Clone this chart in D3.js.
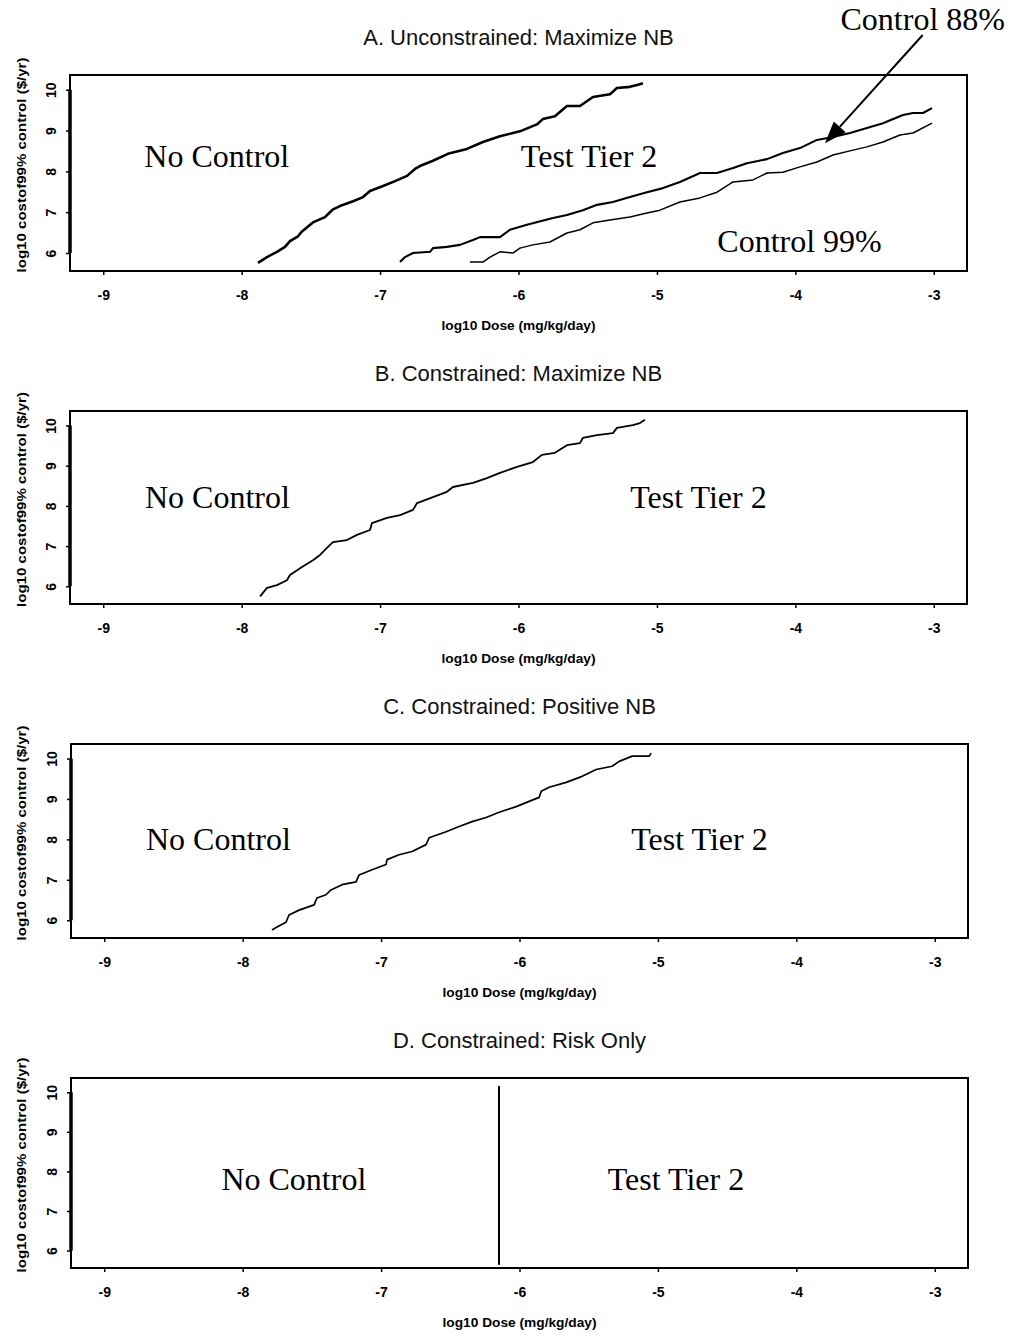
<!DOCTYPE html>
<html>
<head>
<meta charset="utf-8">
<script src="https://cdn.jsdelivr.net/npm/d3@7.9.0/dist/d3.min.js"></script>
<style>
  body { margin: 0; background: #fff; }
  svg { display: block; }
  .tick text { font-family: "Liberation Sans", Arial, sans-serif; font-weight: bold; font-size: 14px; fill: #000; }
  .title { font-family: "Liberation Sans", Arial, sans-serif; font-size: 22px; fill: #111; }
  .axis-label { font-family: "Liberation Sans", Arial, sans-serif; font-size: 13px; font-weight: bold; fill: #000; }
  .region { font-family: "Liberation Serif", "Times New Roman", serif; font-size: 32px; fill: #000; }
</style>
</head>
<body>
<svg width="1015" height="1336"></svg>
<script>
// axis setup
const xDomain = [-9.24, -2.76];
const yDomain = [5.56, 10.36];
const xTicks = [-9, -8, -7, -6, -5, -4, -3];
const yTicks = [6, 7, 8, 9, 10];

const panelTitles = [
  'A. Unconstrained: Maximize NB',
  'B. Constrained: Maximize NB',
  'C. Constrained: Positive NB',
  'D. Constrained: Risk Only'
];

// panel A, boundary No Control / Test Tier 2
const curveA1 = [
  [-7.882, 5.76], [-7.817, 5.90], [-7.745, 6.03], [-7.687, 6.15], [-7.651, 6.29], [-7.593, 6.41],
  [-7.564, 6.53], [-7.485, 6.75], [-7.398, 6.88], [-7.362, 7.00], [-7.340, 7.07], [-7.290, 7.15],
  [-7.195, 7.27], [-7.123, 7.37], [-7.073, 7.52], [-6.979, 7.64], [-6.892, 7.76], [-6.805, 7.89],
  [-6.748, 8.06], [-6.712, 8.13], [-6.618, 8.26], [-6.510, 8.43], [-6.373, 8.55], [-6.257, 8.72],
  [-6.134, 8.86], [-5.990, 8.98], [-5.867, 9.15], [-5.824, 9.28], [-5.737, 9.35], [-5.650, 9.60],
  [-5.556, 9.60], [-5.462, 9.82], [-5.339, 9.89], [-5.289, 10.04], [-5.195, 10.07], [-5.137, 10.12],
  [-5.101, 10.16]
];

// panel A, boundary Test Tier 2 / Control 88%
const curveA2 = [
  [-6.856, 5.78], [-6.820, 5.90], [-6.762, 6.00], [-6.639, 6.03], [-6.618, 6.12], [-6.517, 6.15],
  [-6.423, 6.20], [-6.329, 6.32], [-6.278, 6.39], [-6.134, 6.39], [-6.062, 6.57], [-5.939, 6.69],
  [-5.751, 6.86], [-5.650, 6.93], [-5.535, 7.05], [-5.433, 7.18], [-5.318, 7.25], [-5.195, 7.37],
  [-5.072, 7.49], [-4.956, 7.59], [-4.834, 7.74], [-4.689, 7.96], [-4.566, 7.96], [-4.450, 8.08],
  [-4.350, 8.20], [-4.205, 8.30], [-4.090, 8.45], [-3.967, 8.57], [-3.844, 8.77], [-3.728, 8.84],
  [-3.605, 8.94], [-3.483, 9.06], [-3.367, 9.18], [-3.223, 9.38], [-3.150, 9.43], [-3.078, 9.43],
  [-3.013, 9.55]
];

// panel A, boundary Control 88% / Control 99%
const curveA3 = [
  [-6.351, 5.78], [-6.257, 5.78], [-6.206, 5.90], [-6.134, 6.03], [-6.040, 6.00], [-5.990, 6.12],
  [-5.896, 6.20], [-5.773, 6.27], [-5.650, 6.49], [-5.556, 6.57], [-5.462, 6.74], [-5.339, 6.81],
  [-5.195, 6.88], [-5.072, 6.98], [-4.978, 7.05], [-4.834, 7.25], [-4.689, 7.35], [-4.566, 7.49],
  [-4.450, 7.74], [-4.306, 7.79], [-4.205, 7.96], [-4.090, 7.98], [-3.967, 8.11], [-3.844, 8.23],
  [-3.728, 8.40], [-3.584, 8.52], [-3.483, 8.60], [-3.367, 8.72], [-3.244, 8.89], [-3.150, 8.94],
  [-3.013, 9.18]
];

const curveB = [
  [-7.867, 5.75], [-7.817, 5.96], [-7.745, 6.03], [-7.673, 6.15], [-7.651, 6.28], [-7.564, 6.48],
  [-7.485, 6.65], [-7.434, 6.78], [-7.362, 7.03], [-7.340, 7.10], [-7.239, 7.15], [-7.167, 7.28],
  [-7.073, 7.40], [-7.059, 7.57], [-6.950, 7.70], [-6.856, 7.77], [-6.762, 7.90], [-6.733, 8.07],
  [-6.618, 8.22], [-6.517, 8.35], [-6.474, 8.47], [-6.329, 8.57], [-6.228, 8.69], [-6.134, 8.82],
  [-6.011, 8.97], [-5.896, 9.09], [-5.831, 9.27], [-5.737, 9.32], [-5.650, 9.51], [-5.556, 9.56],
  [-5.535, 9.69], [-5.433, 9.76], [-5.318, 9.81], [-5.289, 9.94], [-5.174, 10.01], [-5.123, 10.06],
  [-5.087, 10.14]
];

const curveC = [
  [-7.788, 5.76], [-7.752, 5.83], [-7.687, 5.95], [-7.665, 6.13], [-7.593, 6.25], [-7.484, 6.38],
  [-7.463, 6.55], [-7.398, 6.63], [-7.362, 6.75], [-7.282, 6.88], [-7.181, 6.95], [-7.159, 7.12],
  [-7.065, 7.25], [-6.964, 7.38], [-6.957, 7.50], [-6.870, 7.62], [-6.776, 7.70], [-6.675, 7.87],
  [-6.653, 8.04], [-6.530, 8.19], [-6.436, 8.32], [-6.342, 8.44], [-6.241, 8.54], [-6.147, 8.67],
  [-6.024, 8.81], [-5.930, 8.94], [-5.858, 9.04], [-5.843, 9.19], [-5.786, 9.29], [-5.663, 9.41],
  [-5.547, 9.56], [-5.446, 9.73], [-5.331, 9.81], [-5.280, 9.93], [-5.186, 10.06], [-5.063, 10.06],
  [-5.049, 10.13]
];

const curveD = [[-6.148, 5.64], [-6.148, 10.16]];

// region labels: [text, x, y(baseline)] per panel
const labelsA = [['No Control', -8.18, 8.11], ['Test Tier 2', -5.49, 8.11], ['Control 99%', -3.97, 6.03], ['Control 88%', -3.08, 11.46]];
const labelsB = [['No Control', -8.175, 7.95], ['Test Tier 2', -4.70, 7.95]];
const labelsC = [['No Control', -8.175, 7.74], ['Test Tier 2', -4.70, 7.74]];
const labelsD = [['No Control', -7.63, 7.53], ['Test Tier 2', -4.87, 7.53]];

// arrow pointing at the Control 88% boundary: [from, to]
const arrowA = [[-3.08, 11.34], [-3.786, 8.69]];

const panels = [
  { top: 75, height: 196, left: 70, right: 967, curves: [[curveA1, 2.6], [curveA2, 2.1], [curveA3, 1.5]], labels: labelsA, arrow: arrowA },
  { top: 411, height: 193, left: 70, right: 967, curves: [[curveB, 1.8]], labels: labelsB },
  { top: 744, height: 194, left: 71, right: 968, curves: [[curveC, 1.7]], labels: labelsC },
  { top: 1078, height: 190, left: 71, right: 968, curves: [[curveD, 2]], labels: labelsD }
];

const svg = d3.select('svg');

panels.forEach((p, i) => {
  const x = d3.scaleLinear().domain(xDomain).range([p.left, p.right]);
  const y = d3.scaleLinear().domain(yDomain).range([p.top + p.height, p.top]);
  const g = svg.append('g');

  // title
  g.append('text')
    .attr('class', 'title')
    .attr('x', (p.left + p.right) / 2)
    .attr('y', p.top - 30)
    .attr('text-anchor', 'middle')
    .text(panelTitles[i]);

  // x axis
  const xAxis = g.append('g')
    .attr('transform', `translate(0,${p.top + p.height})`)
    .call(d3.axisBottom(x).tickValues(xTicks).tickSize(4).tickSizeOuter(0).tickFormat(d3.format('d')));
  xAxis.select('.domain').remove();
  xAxis.selectAll('line').attr('stroke', '#000').attr('stroke-width', 1.5);
  xAxis.selectAll('text').attr('y', 29).attr('dy', 0).text(d => '-' + Math.abs(d));

  // y axis
  const yAxis = g.append('g')
    .attr('transform', `translate(${p.left},0)`)
    .call(d3.axisLeft(y).tickValues(yTicks).tickSize(4).tickSizeOuter(0).tickFormat(d3.format('d')));
  yAxis.select('.domain').remove();
  yAxis.selectAll('line').attr('stroke', '#000').attr('stroke-width', 1.5);
  yAxis.selectAll('text')
    .attr('transform', 'rotate(-90)')
    .attr('x', 0).attr('y', -14).attr('dy', 0)
    .style('text-anchor', 'middle');

  // R-style axis line along the tick span
  g.append('line')
    .attr('x1', p.left).attr('x2', p.left)
    .attr('y1', y(yTicks[0])).attr('y2', y(yTicks[yTicks.length - 1]))
    .attr('stroke', '#000').attr('stroke-width', 3.5);

  // box
  g.append('rect')
    .attr('x', p.left).attr('y', p.top)
    .attr('width', p.right - p.left).attr('height', p.height)
    .attr('fill', 'none').attr('stroke', '#000').attr('stroke-width', 2);

  // axis labels
  g.append('text')
    .attr('class', 'axis-label')
    .attr('x', (p.left + p.right) / 2)
    .attr('y', p.top + p.height + 59)
    .attr('text-anchor', 'middle')
    .attr('textLength', 154).attr('lengthAdjust', 'spacingAndGlyphs')
    .text('log10 Dose (mg/kg/day)');

  const cy = p.top + p.height / 2 - 8;
  g.append('text')
    .attr('class', 'axis-label')
    .attr('transform', `translate(26,${cy}) rotate(-90)`)
    .attr('text-anchor', 'middle')
    .attr('textLength', 215).attr('lengthAdjust', 'spacingAndGlyphs')
    .text('log10 costof99% control ($/yr)');

  // curves
  const line = d3.line().x(d => x(d[0])).y(d => y(d[1]));
  p.curves.forEach(([data, w]) => {
    g.append('path')
      .attr('d', line(data))
      .attr('fill', 'none')
      .attr('stroke', '#000')
      .attr('stroke-width', w)
      .attr('stroke-linejoin', 'round');
  });

  // region labels
  p.labels.forEach(([t, lx, ly]) => {
    g.append('text')
      .attr('class', 'region')
      .attr('x', x(lx))
      .attr('y', y(ly))
      .attr('text-anchor', 'middle')
      .text(t);
  });

  // arrow
  if (p.arrow) {
    const [a, b] = p.arrow;
    const x1 = x(a[0]), y1 = y(a[1]), x2 = x(b[0]), y2 = y(b[1]);
    const ang = Math.atan2(y2 - y1, x2 - x1);
    const len = 22, half = 8;
    const bx = x2 - len * Math.cos(ang), by = y2 - len * Math.sin(ang);
    g.append('line')
      .attr('x1', x1).attr('y1', y1).attr('x2', bx).attr('y2', by)
      .attr('stroke', '#000').attr('stroke-width', 2);
    g.append('path')
      .attr('d', `M${x2},${y2}L${bx - half * Math.sin(ang)},${by + half * Math.cos(ang)}L${bx + half * Math.sin(ang)},${by - half * Math.cos(ang)}Z`)
      .attr('fill', '#000');
  }
});
</script>
</body>
</html>
